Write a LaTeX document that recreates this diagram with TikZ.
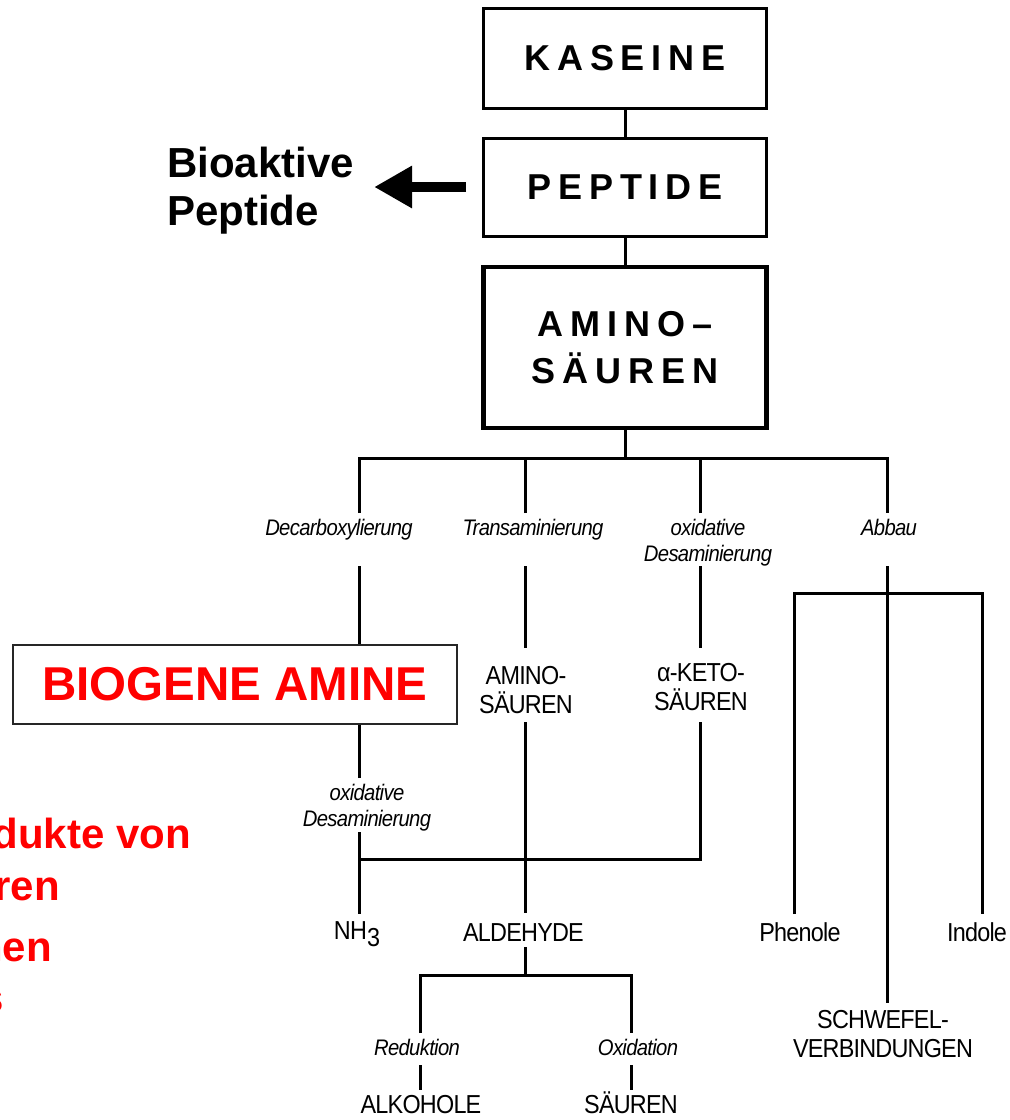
\documentclass[tikz,border=0pt]{standalone}
\usepackage{fontspec}
\setmainfont{Liberation Sans}
\newfontfamily\boxfont[LetterSpace=19]{Liberation Sans}
\newfontfamily\lblfont[LetterSpace=-3,FakeStretch=0.9]{Liberation Sans}
\usetikzlibrary{arrows.meta}

\begin{document}
\begin{tikzpicture}[x=1pt,y=-1pt,
    box/.style={draw,line width=3pt,minimum width=283pt,align=center,
      font={\boxfont\bfseries\fontsize{36}{47}\selectfont}},
    lbl/.style={inner sep=0pt,align=center,
      font={\lblfont\itshape\fontsize{22.5}{26}\selectfont}},
    txt/.style={inner sep=0pt,align=center,
      font={\lblfont\fontsize{26}{29}\selectfont}},
    fett/.style={inner sep=0pt,align=left,
      font={\bfseries\fontsize{42}{48}\selectfont}},
    rot/.style={fett,text=red,anchor=base east},
    line/.style={line width=3pt},
    pfeil/.style={line width=10pt,-{Triangle[length=38pt,width=40pt]}}]
    \useasboundingbox (0,0) rectangle (1010,1120);
    \clip (0,0) rectangle (1010,1120);

    % Kette oben
    \node[box,minimum height=100pt] (kas) at (625,58) {KASEINE};
    \node[box,minimum height=98pt] (pep) at (625,187) {PEPTIDE};
    \node[box,line width=4.5pt,minimum height=161pt] (ami) at (625,347.5) {AMINO–\\SÄUREN};
    \draw[line] (kas) -- (pep);
    \draw[line] (pep) -- (ami);

    \node[fett,anchor=west] (bio) at (167,191) {Bioaktive\\Peptide};
    \draw[pfeil,shorten <=16pt,shorten >=20pt] (pep.west) -- (bio.east |- pep.west);

    % Verzweigung
    \coordinate (barL) at (359,458);
    \coordinate (barR) at (887,458);
    \coordinate (dA) at (359,513);
    \coordinate (tA) at (525,513);
    \coordinate (oA) at (700,513);
    \coordinate (aA) at (887,513);
    \draw[line] (ami) -- (ami |- barL);
    \draw[line] (dA) -- (barL) -- (barR) -- (aA);
    \draw[line] (tA) -- (barL -| tA);
    \draw[line] (oA) -- (barL -| oA);

    \node[lbl,anchor=base] (dec) at (339,535) {Decarboxylierung};
    \node[lbl,anchor=base] (tra) at (533,535) {Transaminierung};
    \node[lbl] (oxd) at (708,542.5) {oxidative\\Desaminierung};
    \node[lbl,anchor=base] (abb) at (889,535) {Abbau};

    % Decarboxylierung
    \node[draw=black!85,line width=1.5pt,minimum width=444pt,minimum height=79pt,
      inner sep=0pt,text=red,font={\bfseries\fontsize{47.5}{50}\selectfont}]
      (bam) at (235,684.5) {BIOGENE AMINE};
    \coordinate (dB) at (359,566);
    \coordinate (dC) at (359,778);
    \coordinate (dD) at (359,832);
    \draw[line] (dB) -- (dB |- bam.north);
    \draw[line] (dC) -- (dC |- bam.south);
    \node[lbl] (oxd2) at (367,807.5) {oxidative\\Desaminierung};

    % Transaminierung und oxidative Desaminierung
    \node[txt] (ams) at (526,690) {AMINO-\\SÄUREN};
    \node[txt] (kts) at (701,687.5) {α-KETO-\\SÄUREN};
    \coordinate (tB) at (525,566);
    \coordinate (tC) at (525,648);
    \coordinate (tD) at (525,722);
    \coordinate (tE) at (525,913);
    \coordinate (oB) at (700,566);
    \coordinate (oC) at (700,648);
    \coordinate (oD) at (700,722);
    \coordinate (jL) at (359,859);
    \coordinate (jR) at (700,859);
    \coordinate (nE) at (359,914);
    \draw[line] (tB) -- (tC);
    \draw[line] (oB) -- (oC);
    \draw[line] (tD) -- (tE);
    \draw[line] (oD) -- (jR) -- (jL);
    \draw[line] (dD) -- (nE);

    \node[txt,anchor=base] (nh) at (357,939) {NH\raisebox{-0.3em}{3}};
    \node[txt,anchor=base] (ald) at (523.5,941) {ALDEHYDE};

    % Aldehyde
    \coordinate (hA) at (525,947);
    \coordinate (hL) at (420,975);
    \coordinate (hR) at (631,975);
    \coordinate (hLu) at (420,1033);
    \coordinate (hRu) at (631,1033);
    \coordinate (hLv) at (420,1065);
    \coordinate (hRv) at (631,1065);
    \coordinate (hLw) at (420,1090);
    \coordinate (hRw) at (631,1090);
    \draw[line] (hA) -- (hL -| hA);
    \draw[line] (hLu) -- (hL) -- (hR) -- (hRu);
    \draw[line] (hLv) -- (hLw);
    \draw[line] (hRv) -- (hRw);
    \node[lbl,anchor=base] (red) at (417,1055) {Reduktion};
    \node[lbl,anchor=base] (oxi) at (638,1055) {Oxidation};
    \node[txt,anchor=base] (alk) at (421,1113) {ALKOHOLE};
    \node[txt,anchor=base] (sau) at (631,1113) {SÄUREN};

    % Abbau
    \coordinate (aB) at (887,566);
    \coordinate (aE) at (887,1003);
    \coordinate (pA) at (794,593);
    \coordinate (iA) at (982,593);
    \coordinate (pB) at (794,914);
    \coordinate (iB) at (982,914);
    \draw[line] (aB) -- (aE);
    \draw[line] (pB) -- (pA) -- (iA) -- (iB);
    \node[txt,anchor=base] (phe) at (800,941) {Phenole};
    \node[txt,anchor=base] (ind) at (977,941) {Indole};
    \node[txt] (sch) at (883,1034) {SCHWEFEL-\\VERBINDUNGEN};

    % Text links, angeschnitten
    \node[rot] (r1) at (191,848) {dukte von};
    \node[rot] (r2) at (60,900) {ren};
    \node[rot] (r3) at (52,961) {hen};
    \node[rot] (r4) at (4,1012) {s};
\end{tikzpicture}
\end{document}
